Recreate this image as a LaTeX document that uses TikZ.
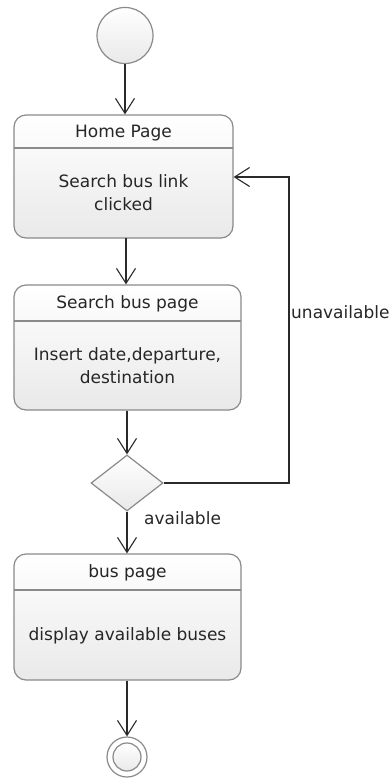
\documentclass[tikz,border=0pt]{standalone}
\usepackage{fontspec}
\setmainfont{DejaVu Sans}
\usetikzlibrary{arrows.meta,shapes.geometric,calc}
\definecolor{edgegray}{HTML}{8A8A8A}
\definecolor{linedark}{HTML}{2A2A2A}
\definecolor{fillbot}{HTML}{E9E9E9}
\tikzset{
  statebox/.style={draw=edgegray, line width=1.2pt, rounded corners=12pt, top color=white, bottom color=fillbot, inner sep=0pt},
  flow/.style={draw=linedark, line width=1.1pt, -{Straight Barb[length=15pt,width=19pt,line width=1.1pt]}},
  lbl/.style={font=\fontsize{17}{23}\selectfont, text=black!85, align=center, inner sep=0pt},
  sepline/.style={draw=edgegray, line width=1.2pt}
}
\begin{document}
\begin{tikzpicture}[x=1pt,y=-1pt]
\useasboundingbox (0,0) rectangle (390,778);
% start
\node[circle, draw=edgegray, line width=1.2pt, top color=white, bottom color=fillbot, minimum size=56pt, inner sep=0pt] (start) at (125,35.5) {};
% home page
\node[statebox, minimum width=219pt, minimum height=123pt] (home) at (123.5,176.5) {};
\draw[sepline] (14,148) -- (233,148);
\node[lbl] (hometitle) at (123.5,133) {Home Page};
\node[lbl] (homebody) at (123.5,193) {Search bus link\\clicked};
% search bus page
\node[statebox, minimum width=227pt, minimum height=125pt] (search) at (127.5,347.5) {};
\draw[sepline] (14,321) -- (241,321);
\node[lbl] (searchtitle) at (127.5,304) {Search bus page};
\node[lbl] (searchbody) at (127.5,366) {Insert date,departure,\\destination};
% decision
\node[diamond, draw=edgegray, line width=1.2pt, top color=white, bottom color=fillbot, minimum width=72pt, minimum height=56pt, aspect=1.3, inner sep=0pt] (dec) at (127,483) {};
% bus page
\node[statebox, minimum width=227pt, minimum height=126pt] (bus) at (127.5,617) {};
\draw[sepline] (14,590) -- (241,590);
\node[lbl] (bustitle) at (127.5,573) {bus page};
\node[lbl] (busbody) at (127.5,636) {display available buses};
% end
\node[circle, draw=edgegray, line width=1.2pt, fill=white, minimum size=40pt, inner sep=0pt] (end) at (127,757) {};
\node[circle, draw=edgegray, line width=1.2pt, top color=white, bottom color=fillbot, minimum size=28pt, inner sep=0pt] (endin) at (127,757) {};
% connectors
\coordinate (hb) at (126,238);
\coordinate (c1) at (289,483);
\coordinate (c2) at (289,177);
\draw[flow] (start.south) -- (home.north -| start.south);
\draw[flow] (hb) -- (search.north -| hb);
\draw[flow] (search.south -| dec.north) -- (dec.north);
\draw[flow] (dec.south) -- (bus.north -| dec.south);
\draw[flow] (bus.south -| end.north) -- (end.north);
\draw[flow] (dec.east) -- (c1) -- (c2) -- (home.east |- c2);
% labels
\node[lbl, anchor=west] (unav) at (291,312) {unavailable};
\node[lbl, anchor=west] (av) at (144,518) {available};
\end{tikzpicture}
\end{document}
